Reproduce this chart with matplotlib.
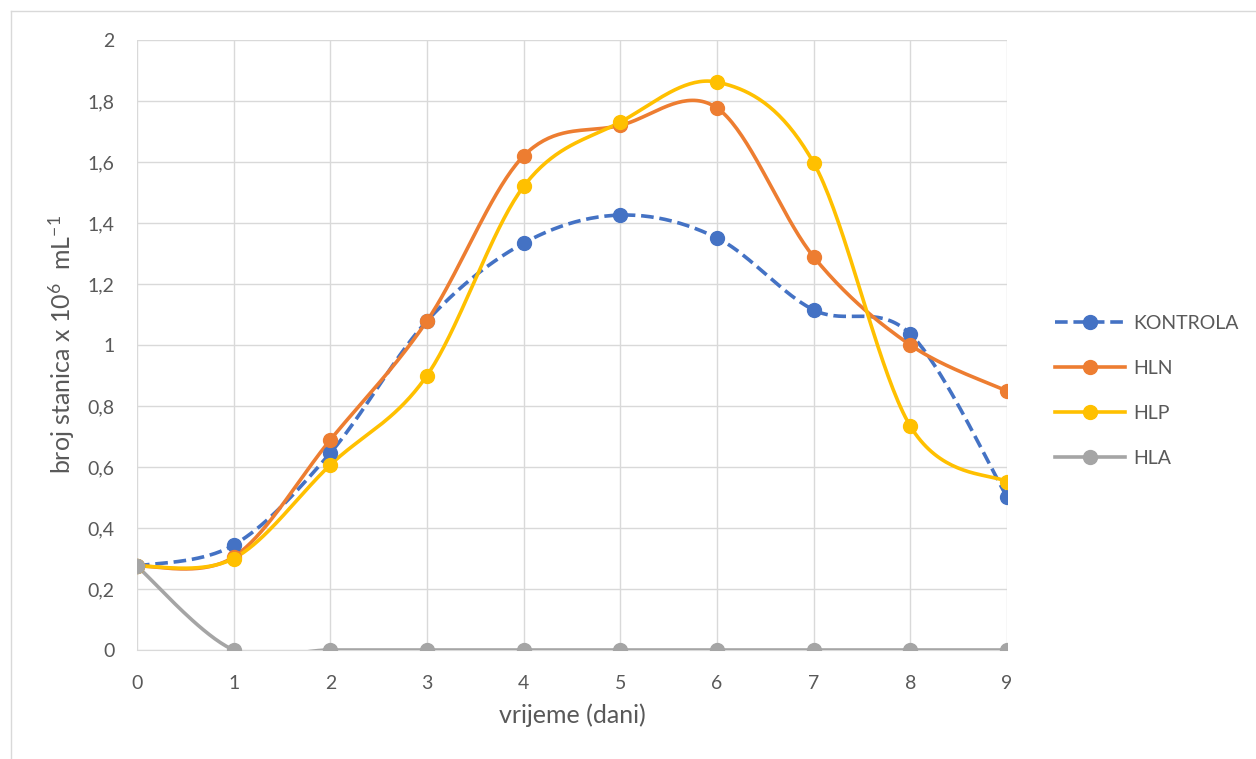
import numpy as np
import matplotlib
matplotlib.use("Agg")
import matplotlib.pyplot as plt
from matplotlib.lines import Line2D

days = [0, 1, 2, 3, 4, 5, 6, 7, 8, 9]
kontrola = [0.275, 0.344, 0.646, 1.079, 1.334, 1.426, 1.351, 1.115, 1.036, 0.502]
hln = [0.275, 0.305, 0.689, 1.079, 1.620, 1.720, 1.777, 1.289, 1.000, 0.849]
hlp = [0.275, 0.300, 0.607, 0.900, 1.520, 1.731, 1.862, 1.597, 0.734, 0.551]
hla = [0.275, 0.0, 0.0, 0.0, 0.0, 0.0, 0.0, 0.0, 0.0, 0.0]
yticks = [0, 0.2, 0.4, 0.6, 0.8, 1.0, 1.2, 1.4, 1.6, 1.8, 2.0]
ytick_labels = ["0", "0,2", "0,4", "0,6", "0,8", "1", "1,2", "1,4", "1,6", "1,8", "2"]

plt.rcParams['font.family'] = ['Lato', 'DejaVu Sans']
TXT = '#595959'
GRID = '#D9D9D9'
FS = 14
FST = 18


def smooth(x, y, n=40):
    x = np.asarray(x, float)
    y = np.asarray(y, float)
    P = np.column_stack([x, y])
    out = []
    for i in range(len(P) - 1):
        p0 = P[i - 1] if i > 0 else P[i]
        p1 = P[i]
        p2 = P[i + 1]
        p3 = P[i + 2] if i + 2 < len(P) else P[i + 1]
        c1 = p1 + (p2 - p0) / 6.0
        c2 = p2 - (p3 - p1) / 6.0
        t = np.linspace(0, 1, n)[:, None]
        seg = ((1 - t) ** 3) * p1 + 3 * ((1 - t) ** 2) * t * c1 + 3 * (1 - t) * t ** 2 * c2 + t ** 3 * p2
        if i > 0:
            seg = seg[1:]
        out.append(seg)
    out = np.vstack(out)
    return out[:, 0], out[:, 1]


fig = plt.figure(figsize=(12.56, 7.59), dpi=100)
ax = fig.add_axes([137 / 1256, 1 - 650 / 759, 870 / 1256, 610 / 759])

# chart border
fig.add_artist(Line2D([11 / 1256, 11 / 1256], [0, 1 - 11 / 759], transform=fig.transFigure, color=GRID, lw=1))
fig.add_artist(Line2D([11 / 1256, 1], [1 - 11 / 759, 1 - 11 / 759], transform=fig.transFigure, color=GRID, lw=1))

series = [
    ("KONTROLA", kontrola, '#4472C4', (0, (3.5, 1.6))),
    ("HLN", hln, '#ED7D31', '-'),
    ("HLP", hlp, '#FFC000', '-'),
    ("HLA", hla, '#A5A5A5', '-'),
]
handles = []
for name, vals, col, ls in series:
    sx, sy = smooth(days, vals)
    ax.plot(sx, sy, color=col, lw=2.6, ls=ls, solid_capstyle='round', dash_capstyle='butt', zorder=3)
    ax.plot(days, vals, 'o', color=col, ms=10, zorder=4)
    handles.append(Line2D([0], [0], color=col, lw=2.6, ls=ls, marker='o', ms=10))

ax.set_xlim(0, 9)
ax.set_ylim(0, 2)
ax.set_xticks(days)
ax.set_xticklabels([str(d) for d in days])
ax.set_yticks(yticks)
ax.set_yticklabels(ytick_labels)
ax.grid(True, color=GRID, lw=1)
ax.set_axisbelow(True)
for s in ['top', 'right', 'left']:
    ax.spines[s].set_visible(False)
ax.spines['bottom'].set_color(GRID)
ax.tick_params(axis='x', length=0, labelsize=FS, colors=TXT, pad=18)
ax.tick_params(axis='y', length=0, labelsize=FS, colors=TXT, pad=16)
ax.set_xlabel("vrijeme (dani)", fontsize=FST, color=TXT, labelpad=8)
ax.set_ylabel(r"broj stanica x 10$\mathregular{^{6}}$  mL$\mathregular{^{-1}}$", fontsize=FST, color=TXT, labelpad=8)

leg = fig.legend(handles, [s[0] for s in series], loc='center left',
                 bbox_to_anchor=(1037.5 / 1256, 1 - 391 / 759), frameon=False,
                 fontsize=FS, labelspacing=1.43, handlelength=3.6, handletextpad=0.4)
for t in leg.get_texts():
    t.set_color(TXT)

fig.savefig("out.png", dpi=100)
